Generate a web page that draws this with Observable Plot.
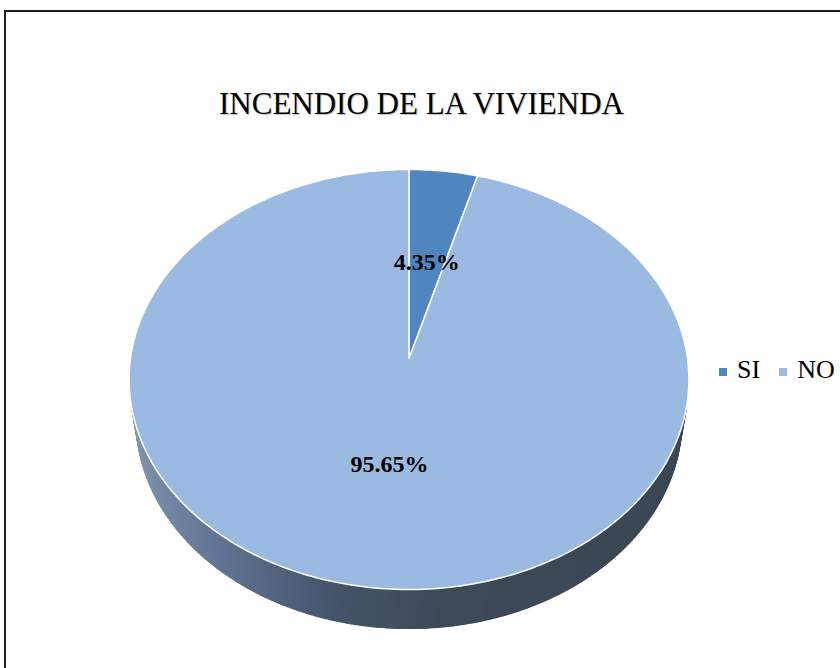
<!DOCTYPE html>
<html>
<head>
<meta charset="utf-8">
<script src="https://cdn.jsdelivr.net/npm/d3@7"></script>
<script src="https://cdn.jsdelivr.net/npm/@observablehq/plot@0.6"></script>
<style>
  html, body { margin: 0; padding: 0; background: #fff; }
  body { width: 840px; height: 668px; overflow: hidden; position: relative; font-family: "Liberation Serif", "DejaVu Serif", serif; }
  #frame { position: absolute; left: 4px; top: 10px; width: 900px; height: 700px; border-left: 2px solid #1e1e1e; border-top: 2px solid #1e1e1e; box-sizing: border-box; }
  #title { position: absolute; left: 0; width: 843px; top: 84px; text-align: center; font-size: 31px; line-height: 40px; color: #000; text-shadow: 1px 1px 1px rgba(0,0,0,0.25); white-space: nowrap; }
  #chart { position: absolute; left: 0; top: 0; }
  #legend { position: absolute; left: 719px; top: 355px; font-size: 26px; line-height: 30px; white-space: nowrap; color: #000; }
  #legend span.item { display: inline-block; margin-right: 19px; }
  #legend span.sw { display: inline-block; width: 8px; height: 8px; margin-right: 10px; vertical-align: 2px; }
</style>
</head>
<body>
<div id="frame"></div>
<div id="title">INCENDIO DE LA VIVIENDA</div>
<div id="chart"></div>
<div id="legend"></div>
<script>
// ---- data ----
const categories = ["SI", "NO"];
const values = [4.35, 95.65];
const labels = ["4.35%", "95.65%"];
const colors = ["#4f86bf", "#9abae1"];

// ---- perspective projection of the pie (geometry / style constants) ----
const D = 6.65, sB = 0.7465, cB = 0.665, depth = 0.2267;
function proj(X, Y, Z) {
  const zc = D + Y * cB - Z * sB;
  const yc = Y * sB + Z * cB;
  return [X * D / zc, yc * D / zc];
}

const arcs = d3.pie().sort(null).value(d => d)(values);

// top-face slice polygons
const topRows = [];
arcs.forEach((a, i) => {
  const c0 = proj(0, 0, 0);
  topRows.push({key: categories[i], fill: colors[i], x: c0[0], y: c0[1]});
  const n = Math.max(4, Math.ceil((a.endAngle - a.startAngle) / (Math.PI / 180)));
  for (let k = 0; k <= n; k++) {
    const t = a.startAngle + (a.endAngle - a.startAngle) * k / n;
    const p = proj(Math.sin(t), Math.cos(t), 0);
    topRows.push({key: categories[i], fill: colors[i], x: p[0], y: p[1]});
  }
});

// side strips (only front-facing ones) and a base silhouette under them
const shade = d3.scaleLinear()
  .domain([-1, -0.6, -0.25, 0.1, 1])
  .range(["#8196b2", "#5e7190", "#46556a", "#3e4a58", "#3b4754"])
  .interpolate(d3.interpolateRgb);
const sideRows = [];
const visibleT = [];
arcs.forEach((a, i) => {
  const n = Math.ceil((a.endAngle - a.startAngle) / (Math.PI / 360));
  for (let k = 0; k < n; k++) {
    const t0 = a.startAngle + (a.endAngle - a.startAngle) * k / n;
    const t1 = a.startAngle + (a.endAngle - a.startAngle) * (k + 1) / n;
    const tm = (t0 + t1) / 2;
    if (!(Math.cos(tm) < -1 / (D * cB))) continue;
    visibleT.push(t0, t1);
    const col = shade(Math.sin(tm));
    const key = categories[i] + "-" + k;
    [[t0, 0], [t1, 0], [t1, -depth], [t0, -depth]].forEach(([t, z]) => {
      const p = proj(Math.sin(t), Math.cos(t), z);
      sideRows.push({key, fill: col, x: p[0], y: p[1]});
    });
  }
});
const tMin = d3.min(visibleT), tMax = d3.max(visibleT);
const baseRows = [];
for (let k = 0; k <= 200; k++) {
  const t = tMin + (tMax - tMin) * k / 200;
  const p = proj(Math.sin(t), Math.cos(t), 0);
  baseRows.push({x: p[0], y: p[1]});
}
for (let k = 200; k >= 0; k--) {
  const t = tMin + (tMax - tMin) * k / 200;
  const p = proj(Math.sin(t), Math.cos(t), -depth);
  baseRows.push({x: p[0], y: p[1]});
}

// label positions
const labelRows = arcs.map((a, i) => {
  const t = (a.startAngle + a.endAngle) / 2;
  const r = 0.49;
  const p = proj(r * Math.sin(t), r * Math.cos(t), 0);
  return {text: labels[i], x: p[0], y: p[1]};
});

const cx = 408.5, cy = 358, R = 278.5;
const plot = Plot.plot({
  width: 840,
  height: 668,
  margin: 0,
  x: {domain: [-1, 1], range: [cx - R, cx + R], axis: null},
  y: {domain: [-1, 1], range: [cy + R, cy - R], axis: null},
  color: {type: "identity"},
  style: {background: "transparent", overflow: "visible"},
  marks: [
    Plot.line(baseRows, {x: "x", y: "y", fill: "#46556a", stroke: "none", curve: "linear-closed"}),
    Plot.line(sideRows, {x: "x", y: "y", z: "key", fill: "fill", stroke: "fill", strokeWidth: 1.2, curve: "linear-closed"}),
    Plot.line(topRows, {x: "x", y: "y", z: "key", fill: "fill", stroke: "white", strokeWidth: 1.5, strokeLinejoin: "round", curve: "linear-closed"}),
    Plot.text(labelRows, {x: "x", y: "y", text: "text", fontSize: 24, fontWeight: "bold", fontFamily: "Liberation Serif", fill: "#000"})
  ]
});
document.getElementById("chart").appendChild(plot);

// legend
const leg = document.getElementById("legend");
categories.forEach((c, i) => {
  const it = document.createElement("span");
  it.className = "item";
  const sw = document.createElement("span");
  sw.className = "sw";
  sw.style.background = colors[i];
  it.appendChild(sw);
  it.appendChild(document.createTextNode(c));
  leg.appendChild(it);
});
</script>
</body>
</html>
